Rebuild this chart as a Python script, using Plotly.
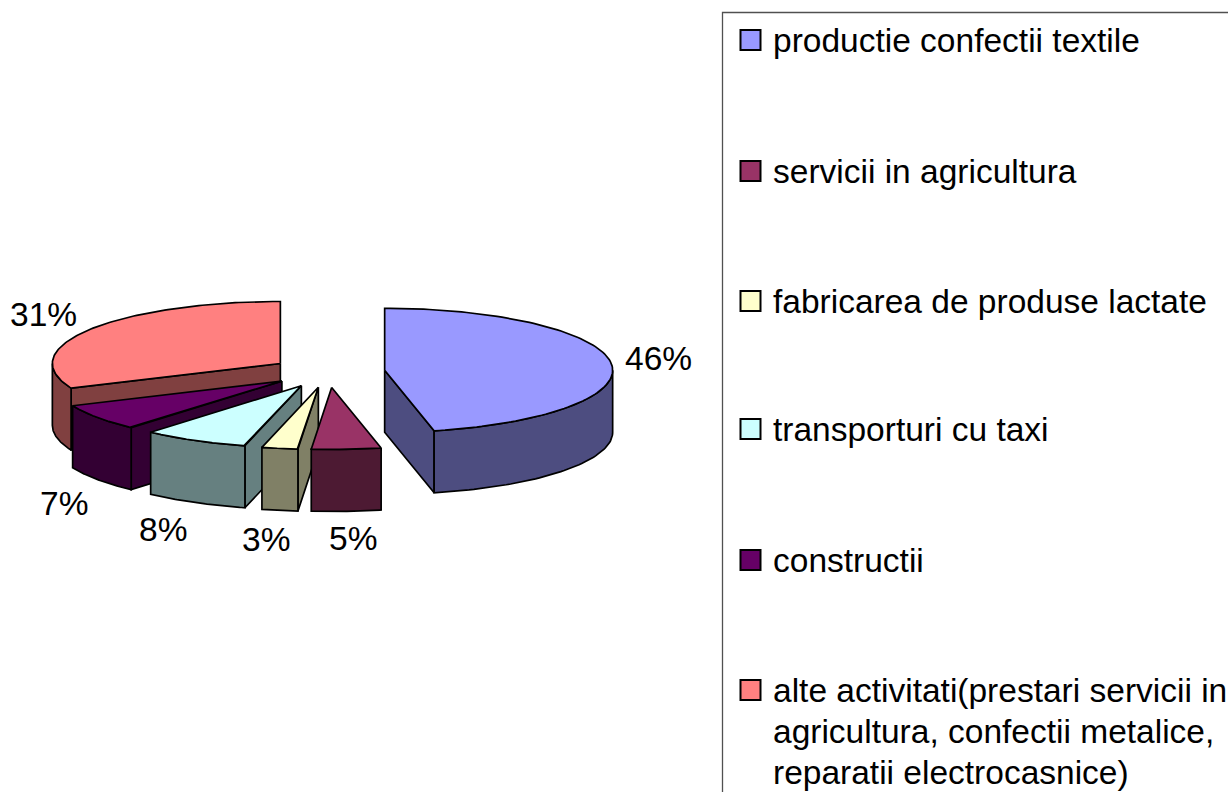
import numpy as np
import plotly.graph_objects as go

categories = [
    "productie confectii textile",
    "servicii in agricultura",
    "fabricarea de produse lactate",
    "transporturi cu taxi",
    "constructii",
    "alte activitati(prestari servicii in<br>agricultura, confectii metalice,<br>reparatii electrocasnice)",
]
values = [46.45, 4.9, 2.55, 7.5, 7.0, 31.45]
top_colors = ["#9999FF", "#993366", "#FFFFCC", "#CCFFFF", "#660066", "#FF8080"]
side_colors = ["#4D4D80", "#4D1A33", "#808066", "#668080", "#330033", "#804040"]

# geometry of the projected pie, in page pixels
CX, CY, RX, RY, DEPTH, EXPLODE = 328, 372, 228, 62, 62, 0.25
LABEL_NUDGE = [(2, -4), (7, 27), (-14, 29), (-32, 27), (-33, 24), (-8, -8)]
LEGEND_ROWS = [40, 171, 301, 429, 560, 690]
LEGEND_LINE = 41
FONT = "Liberation Sans, Arial, sans-serif"
FS = 33.5

fig = go.Figure()

edges = np.concatenate([[0], np.cumsum(values)]) / sum(values) * 360
slices = []
for i in range(len(values)):
    a0, a1 = edges[i], edges[i + 1]
    mid = np.radians((a0 + a1) / 2)
    ax = CX + EXPLODE * RX * np.sin(mid)
    ay = CY - EXPLODE * RY * np.cos(mid)
    slices.append((i, a0, a1, mid, ax, ay))


def rim(ax, ay, deg):
    t = np.radians(deg)
    return ax + RX * np.sin(t), ay - RY * np.cos(t)


def poly(xs, ys, color):
    fig.add_trace(go.Scatter(
        x=list(xs) + [xs[0]], y=list(ys) + [ys[0]], mode="lines", fill="toself",
        fillcolor=color, line=dict(color="black", width=1.7), showlegend=False, hoverinfo="skip",
    ))


annotations = []
for i, a0, a1, mid, ax, ay in reversed(slices):
    side = side_colors[i]
    # visible cut faces
    for deg, visible in ((a0, np.sin(np.radians(a0)) < -1e-9), (a1, np.sin(np.radians(a1)) > 1e-9)):
        if visible:
            rx, ry = rim(ax, ay, deg)
            poly([ax, rx, rx, ax], [ay, ry, ry + DEPTH, ay + DEPTH], side)
    # outer wall, front half only
    lo, hi = max(a0, 90), min(a1, 270)
    if hi > lo:
        d = np.linspace(lo, hi, 60)
        wx, wy = rim(ax, ay, d)
        poly(np.r_[wx, wx[::-1]], np.r_[wy, wy[::-1] + DEPTH], side)
    # top surface
    d = np.linspace(a0, a1, 120)
    tx, ty = rim(ax, ay, d)
    poly(np.r_[ax, tx], np.r_[ay, ty], top_colors[i])
    # value label
    nx, ny = LABEL_NUDGE[i]
    lx = ax + 1.2 * RX * np.sin(mid)
    ly = ay - 1.2 * RY * np.cos(mid)
    if np.cos(mid) < 0:
        ly = ay + RY * abs(np.cos(mid)) + DEPTH
        lx = ax + RX * np.sin(mid)
    annotations.append(dict(
        x=lx + nx, y=ly + ny, text=f"{round(values[i])}%", showarrow=False,
        xanchor="center", yanchor="middle", font=dict(family=FONT, size=FS, color="black"),
    ))

# legend: keys as markers, names as text, in a box running off the page
fig.add_trace(go.Scatter(
    x=[750.5] * len(categories), y=LEGEND_ROWS, mode="markers", showlegend=False, hoverinfo="skip",
    marker=dict(symbol="square", size=20, color=top_colors, line=dict(color="black", width=2)),
))
for row, name in zip(LEGEND_ROWS, categories):
    for k, line in enumerate(name.split("<br>")):
        annotations.append(dict(
            x=771, y=row + k * LEGEND_LINE, text=line, showarrow=False,
            xanchor="left", yanchor="middle", font=dict(family=FONT, size=FS, color="black"),
        ))

fig.update_layout(
    width=1228, height=792,
    margin=dict(l=0, r=0, t=0, b=0),
    paper_bgcolor="white", plot_bgcolor="white",
    font=dict(family=FONT, size=FS, color="black"),
    showlegend=False,
    xaxis=dict(range=[0, 1228], visible=False, fixedrange=True),
    yaxis=dict(range=[792, 0], visible=False, fixedrange=True),
    annotations=annotations,
    shapes=[dict(type="rect", xref="x", yref="y", x0=722.5, x1=1260, y0=12.5, y1=830,
                 line=dict(color="#505050", width=1.3), fillcolor="rgba(0,0,0,0)")],
)
fig.write_html(
    "out.html", config={"displayModeBar": False},
    post_script="document.body.style.margin='0';document.documentElement.style.overflow='hidden';",
)
